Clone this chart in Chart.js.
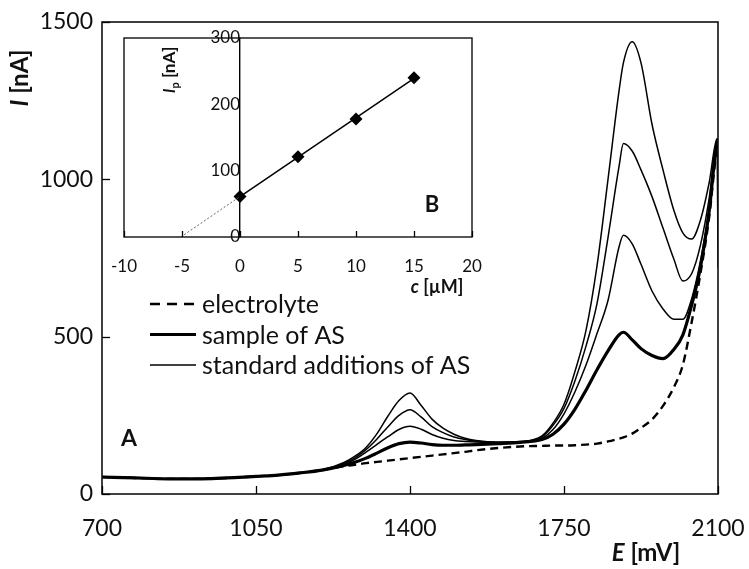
<!DOCTYPE html>
<html>
<head>
<meta charset="utf-8">
<title>Voltammograms of AS with standard additions</title>
<script src="https://cdn.jsdelivr.net/npm/chart.js@4.4.1/dist/chart.umd.min.js"></script>
<style>
  html, body { margin: 0; padding: 0; background: #fff; }
  #wrap { position: relative; width: 749px; height: 569px; }
  #wrap canvas { position: absolute; left: 0; top: 0; }
</style>
</head>
<body>
<div id="wrap">
  <canvas id="main" width="749" height="569"></canvas>
  <canvas id="inset" width="749" height="569"></canvas>
</div>
<script>
// ---- Voltammograms (panel A): potential E [mV] and current I [nA] ----
const potential = [700, 750, 800, 850, 900, 950, 1000, 1050, 1100, 1150, 1200,
  1250, 1275, 1300, 1325, 1350, 1375, 1400, 1425, 1450, 1475, 1500, 1525, 1550,
  1600, 1650, 1700, 1725, 1750, 1775, 1800, 1825, 1850, 1875, 1885, 1905, 1925,
  1950, 1975, 2000, 2020, 2040, 2060, 2080, 2098, 2100];

const electrolyte = [54, 52, 50, 48, 48, 49, 52, 56, 60, 67, 76,
  88, 93, 98, 102, 106, 110, 114, 118, 122, 126, 130, 134, 139,
  146, 151, 153, 154, 154, 155, 157, 160, 167, 176, 180, 192, 210,
  237, 280, 340, 410, 545, 700, 880, 1100, 1105];

const sampleAS = [54, 52, 50, 48, 48, 49, 52, 56, 60, 67, 76,
  91, 101, 114, 130, 147, 160, 165, 162, 157, 155, 155, 156, 157,
  160, 164, 173, 190, 222, 270, 330, 395, 455, 506, 514, 490, 462,
  440, 430, 460, 505, 600, 720, 900, 1115, 1118];

const addition1 = [54, 52, 50, 48, 48, 49, 52, 56, 60, 67, 76,
  94, 110, 133, 158, 182, 205, 215, 206, 189, 177, 170, 167, 165,
  163, 165, 177, 205, 255, 325, 410, 510, 615, 785, 822, 795, 730,
  645, 588, 555, 555, 620, 740, 905, 1120, 1122];

const addition2 = [54, 52, 50, 48, 48, 49, 52, 56, 60, 67, 76,
  97, 115, 141, 175, 214, 250, 268, 245, 214, 195, 181, 173, 168,
  164, 166, 181, 218, 272, 360, 470, 605, 815, 1040, 1114, 1090, 1030,
  945, 845, 745, 677, 700, 790, 940, 1125, 1126];

const addition3 = [54, 52, 50, 48, 48, 49, 52, 56, 60, 67, 76,
  100, 120, 148, 192, 248, 297, 321, 282, 238, 209, 190, 177, 170,
  165, 167, 185, 225, 285, 390, 520, 725, 1000, 1280, 1370, 1437, 1370,
  1175, 1030, 900, 830, 810, 870, 990, 1130, 720];

const xTicksA = [700, 1050, 1400, 1750, 2100];
const yTicksA = [0, 500, 1000, 1500];

// ---- Calibration (panel B): concentration c [uM] and peak current Ip [nA] ----
const concentration = [0, 5, 10, 15];
const peakCurrent = [61, 121, 178, 240];
const fitLineC = [0, 15];
const fitLineIp = [61, 239];
const extrapC = [-5.1, 0];
const extrapIp = [0, 61];
const xTicksB = [-10, -5, 0, 5, 10, 15, 20];
const yTicksB = [0, 100, 200, 300];

const FONT = 'Lato';
const INK = '#111';

function pts(xs, ys) { return xs.map((x, i) => ({ x: x, y: ys[i] })); }

// fixed axis band sizes, no extra room reserved for edge labels
function fixBand(size) {
  return function (s) {
    if (s.isHorizontal()) s.height = size; else s.width = size;
    s.paddingLeft = 0; s.paddingRight = 0; s.paddingTop = 0; s.paddingBottom = 0;
  };
}

// white page + plot frame
const frame = {
  id: 'frame',
  beforeDraw(chart, args, o) {
    const ctx = chart.ctx, a = chart.chartArea;
    ctx.save();
    ctx.fillStyle = '#fff';
    if (o.fillAll) ctx.fillRect(0, 0, chart.width, chart.height);
    else ctx.fillRect(a.left, a.top, a.right - a.left, a.bottom - a.top);
    ctx.restore();
  },
  afterDraw(chart, args, o) {
    const ctx = chart.ctx, a = chart.chartArea;
    ctx.save();
    ctx.strokeStyle = o.color || '#000';
    ctx.lineWidth = o.width || 1.5;
    ctx.strokeRect(a.left, a.top, a.right - a.left, a.bottom - a.top);
    ctx.restore();
  }
};

// tick marks pointing into the plot area
const innerTicks = {
  id: 'innerTicks',
  afterDraw(chart, args, o) {
    const ctx = chart.ctx, a = chart.chartArea;
    ctx.save();
    ctx.strokeStyle = '#000';
    ctx.lineWidth = o.width || 1.3;
    (o.axes || []).forEach(id => {
      const s = chart.scales[id];
      s.ticks.forEach(t => {
        const p = Math.round(s.getPixelForValue(t.value)) + 0.5;
        ctx.beginPath();
        if (s.isHorizontal()) { ctx.moveTo(p, a.bottom); ctx.lineTo(p, a.bottom - o.len); }
        else { ctx.moveTo(a.left, p); ctx.lineTo(a.left + o.len, p); }
        ctx.stroke();
      });
    });
    ctx.restore();
  }
};

// text made of runs with their own fonts (italic symbols, subscripts)
function drawRuns(ctx, runs, cx, cy, rot) {
  ctx.save();
  ctx.translate(cx, cy);
  if (rot) ctx.rotate(rot);
  ctx.textBaseline = 'alphabetic';
  ctx.textAlign = 'left';
  ctx.fillStyle = INK;
  let w = 0;
  runs.forEach(r => { ctx.font = r.f; w += ctx.measureText(r.t).width; });
  let x = -w / 2;
  runs.forEach(r => {
    ctx.font = r.f;
    ctx.fillText(r.t, x, (r.dy || 0) + (runs.base || 0));
    x += ctx.measureText(r.t).width;
  });
  ctx.restore();
}

const labelsA = {
  id: 'labelsA',
  afterDraw(chart) {
    const ctx = chart.ctx;
    const e = [{ t: 'E', f: 'italic bold 24px ' + FONT }, { t: ' [mV]', f: 'bold 24px ' + FONT }];
    e.base = 8;
    drawRuns(ctx, e, 646, 553, 0);
    const i = [{ t: 'I', f: 'italic bold 24px ' + FONT }, { t: ' [nA]', f: 'bold 24px ' + FONT }];
    i.base = 8;
    drawRuns(ctx, i, 20, 78, -Math.PI / 2);
    const a = [{ t: 'A', f: 'bold 23px ' + FONT }];
    a.base = 8;
    drawRuns(ctx, a, 129, 438, 0);
  }
};

// legend for panel A, one entry per distinct dataset label
const legendA = {
  id: 'legendA',
  afterDraw(chart, args, o) {
    const ctx = chart.ctx, seen = new Set();
    let row = 0;
    ctx.save();
    chart.data.datasets.forEach(ds => {
      if (seen.has(ds.label)) return;
      seen.add(ds.label);
      const y = o.y + row * o.rowGap;
      ctx.beginPath();
      ctx.strokeStyle = ds.borderColor;
      ctx.lineWidth = ds.borderWidth;
      ctx.setLineDash(ds.legendDash || ds.borderDash || []);
      ctx.moveTo(o.x, y);
      ctx.lineTo(o.x + o.lineLen, y);
      ctx.stroke();
      ctx.setLineDash([]);
      ctx.fillStyle = INK;
      ctx.font = o.font;
      ctx.textBaseline = 'middle';
      ctx.textAlign = 'left';
      ctx.fillText(ds.label, o.x + o.lineLen + o.gap, y + 1);
      row++;
    });
    ctx.restore();
  }
};

const thin = { borderColor: '#000', borderWidth: 1.5, pointRadius: 0, cubicInterpolationMode: 'monotone' };

new Chart(document.getElementById('main'), {
  type: 'line',
  data: {
    datasets: [
      { label: 'electrolyte', data: pts(potential, electrolyte), borderColor: '#000', borderWidth: 2.4,
        borderDash: [8, 5], legendDash: [10, 7], pointRadius: 0, cubicInterpolationMode: 'monotone' },
      { label: 'sample of AS', data: pts(potential, sampleAS), borderColor: '#000', borderWidth: 3.2,
        pointRadius: 0, cubicInterpolationMode: 'monotone' },
      Object.assign({ label: 'standard additions of AS', data: pts(potential, addition1) }, thin),
      Object.assign({ label: 'standard additions of AS', data: pts(potential, addition2) }, thin),
      Object.assign({ label: 'standard additions of AS', data: pts(potential, addition3) }, thin)
    ]
  },
  options: {
    responsive: false,
    animation: false,
    devicePixelRatio: 1,
    layout: { autoPadding: false, padding: { left: 0, top: 22, right: 31, bottom: 0 } },
    plugins: {
      legend: { display: false },
      tooltip: { enabled: false },
      frame: { fillAll: true, color: '#111', width: 1.6 },
      innerTicks: { axes: ['x', 'y'], len: 8 },
      legendA: { x: 150, y: 304, rowGap: 30.5, lineLen: 46, gap: 6, font: '25px ' + FONT }
    },
    scales: {
      x: {
        type: 'linear', min: 700, max: 2100,
        afterBuildTicks(s) { s.ticks = xTicksA.map(v => ({ value: v })); },
        ticks: { color: INK, font: { family: FONT, size: 23 }, padding: 21, maxRotation: 0,
                 callback: v => String(v) },
        grid: { display: false, drawTicks: false },
        border: { display: false },
        afterFit: fixBand(75)
      },
      y: {
        type: 'linear', min: 0, max: 1500,
        afterBuildTicks(s) { s.ticks = yTicksA.map(v => ({ value: v })); },
        ticks: { color: INK, font: { family: FONT, size: 23 }, padding: 9,
                 callback: v => String(v) },
        grid: { display: false, drawTicks: false },
        border: { display: false },
        afterFit: fixBand(102)
      }
    }
  },
  plugins: [frame, innerTicks, labelsA, legendA]
});

const labelsB = {
  id: 'labelsB',
  afterDraw(chart) {
    const ctx = chart.ctx;
    const c = [{ t: 'c', f: 'italic bold 18px ' + FONT }, { t: ' [\u00b5M]', f: 'bold 18px ' + FONT }];
    c.base = 6;
    drawRuns(ctx, c, 437, 287, 0);
    const ip = [{ t: 'I', f: 'italic bold 17px ' + FONT }, { t: 'p', f: 'bold 11px ' + FONT, dy: 4 },
                { t: ' [nA]', f: 'bold 17px ' + FONT }];
    ip.base = 6;
    drawRuns(ctx, ip, 169, 70, -Math.PI / 2);
    const b = [{ t: 'B', f: 'bold 22px ' + FONT }];
    b.base = 8;
    drawRuns(ctx, b, 432, 204, 0);
  }
};

new Chart(document.getElementById('inset'), {
  type: 'scatter',
  data: {
    datasets: [
      { label: 'extrapolation', type: 'line', data: pts(extrapC, extrapIp), borderColor: '#666',
        borderWidth: 1, borderDash: [2, 2], pointRadius: 0 },
      { label: 'calibration line', type: 'line', data: pts(fitLineC, fitLineIp), borderColor: '#000',
        borderWidth: 1.5, pointRadius: 0 },
      { label: 'peak current', data: pts(concentration, peakCurrent), backgroundColor: '#000',
        borderColor: '#000', pointStyle: 'rectRot', pointRadius: 6.5, pointBorderWidth: 0 }
    ]
  },
  options: {
    responsive: false,
    animation: false,
    devicePixelRatio: 1,
    clip: false,
    layout: { autoPadding: false, padding: { left: 124, top: 38, right: 277, bottom: 282 } },
    plugins: {
      legend: { display: false },
      tooltip: { enabled: false },
      frame: { fillAll: false, color: '#111', width: 1.4 },
      innerTicks: { axes: ['x'], len: 6 }
    },
    scales: {
      x: {
        type: 'linear', min: -10, max: 20, position: 'bottom',
        afterBuildTicks(s) { s.ticks = xTicksB.map(v => ({ value: v })); },
        ticks: { color: INK, font: { family: FONT, size: 17 }, padding: 19, maxRotation: 0,
                 callback: v => String(v) },
        grid: { display: false, drawTicks: false },
        border: { display: false },
        afterFit: fixBand(50)
      },
      y: {
        type: 'linear', min: 0, max: 300, position: { x: 0 },
        afterBuildTicks(s) { s.ticks = yTicksB.map(v => ({ value: v })); },
        ticks: { color: INK, font: { family: FONT, size: 17 }, padding: 0,
                 callback: v => String(v) },
        grid: { display: true, drawOnChartArea: false, drawTicks: true, tickLength: 19,
                tickColor: 'rgba(0,0,0,0)' },
        border: { display: true, color: '#000', width: 1.4 },
        afterFit: fixBand(0)
      }
    }
  },
  plugins: [frame, innerTicks, labelsB]
});
</script>
</body>
</html>
